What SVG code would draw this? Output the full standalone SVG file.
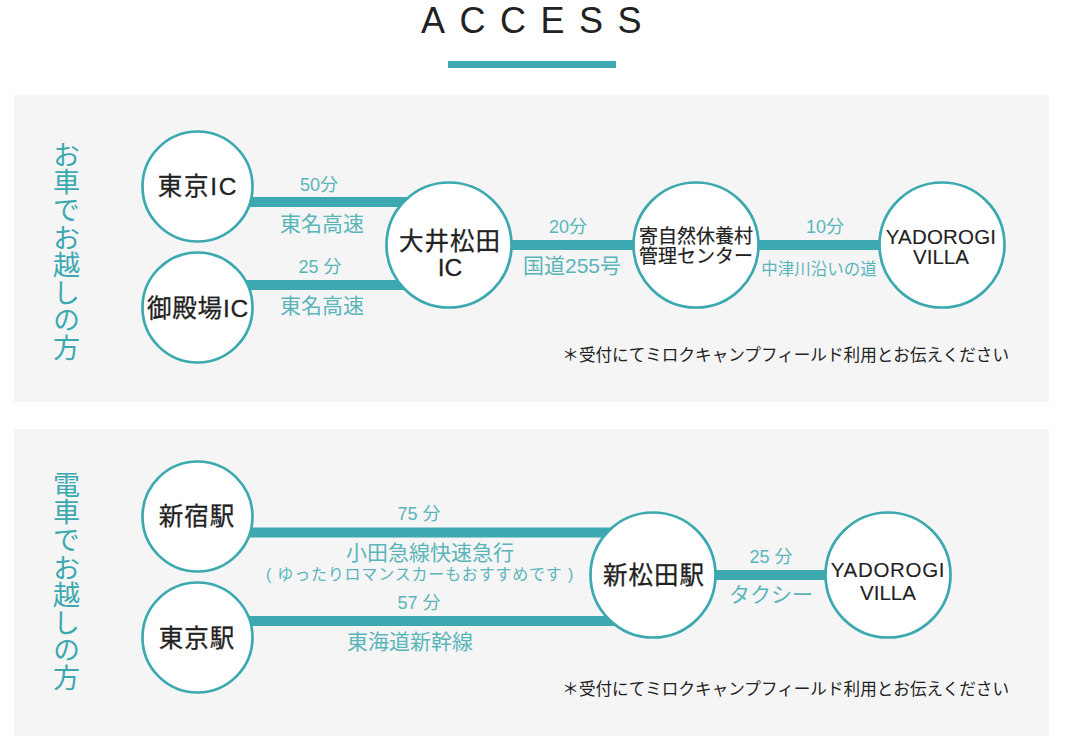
<svg xmlns="http://www.w3.org/2000/svg" width="1072" height="756" viewBox="0 0 1072 756">
<style>
text{font-family:"Liberation Sans","Noto Sans CJK JP",sans-serif;text-anchor:middle}
.panel{fill:#f5f5f5}
.c{fill:#fff;stroke:#3ba9af;stroke-width:2.700px}
.l{fill:#3ba9af}
.n{fill:#222;font-size:24.500px;stroke:#222;stroke-width:.3px}
.s{font-size:19px;stroke-width:.2px}
.y{font-size:20.500px;stroke-width:.1px}
.t{fill:#5ab5ba;font-size:21px}
.d{fill:#5ab5ba;font-size:18px}
.v{fill:#3ba9af;font-size:27px;writing-mode:vertical-rl;text-anchor:start;letter-spacing:.6px}
.note{fill:#222;font-size:16.600px;text-anchor:end}
</style>
<rect width="1072" height="756" fill="#fff"/>
<text x="421" y="33" font-size="36" letter-spacing="14.500" fill="#222" style="text-anchor:start" id="title">ACCESS</text>
<rect x="448" y="61" width="168" height="7" class="l"/>
<rect x="14" y="95" width="1035" height="307" class="panel"/>
<rect x="14" y="429" width="1035" height="307" class="panel"/>
<text class="v" x="64" y="141">お車でお越しの方</text>
<text class="v" x="64" y="471">電車でお越しの方</text>
<g id="connectors">
<rect x="240" y="197" width="170" height="10" class="l"/>
<rect x="240" y="280" width="170" height="10" class="l"/>
<rect x="500" y="240" width="150" height="10" class="l"/>
<rect x="750" y="240" width="150" height="10" class="l"/>
<rect x="240" y="527.500" width="380" height="10" class="l"/>
<rect x="240" y="616" width="380" height="10" class="l"/>
<rect x="700" y="570" width="140" height="10" class="l"/>
</g>
<g id="n1"><circle class="c" cx="197.500" cy="186.500" r="55"/><text class="n" x="198" y="195" letter-spacing="1.800">東京IC</text></g>
<g id="n2"><circle class="c" cx="197.500" cy="307.500" r="55"/><text class="n" x="198" y="317" letter-spacing=".8">御殿場IC</text></g>
<g id="n3"><circle class="c" cx="449" cy="245" r="62.500"/><text class="n" x="450" y="250" letter-spacing="1">大井松田</text><text class="n" x="450" y="276">IC</text></g>
<g id="n4"><circle class="c" cx="696" cy="245" r="62.500"/><text class="n s" x="696" y="243">寄自然休養村</text><text class="n s" x="696" y="263">管理センター</text></g>
<g id="n5"><circle class="c" cx="942" cy="245" r="62.500"/><text class="n y" x="941" y="244" letter-spacing=".2">YADOROGI</text><text class="n y" x="941" y="264">VILLA</text></g>
<g id="n6"><circle class="c" cx="197.500" cy="516.500" r="55"/><text class="n" x="197" y="525" letter-spacing="1">新宿駅</text></g>
<g id="n7"><circle class="c" cx="197.500" cy="637.500" r="55"/><text class="n" x="197" y="647" letter-spacing="1">東京駅</text></g>
<g id="n8"><circle class="c" cx="653" cy="575" r="62.500"/><text class="n" x="654" y="584" letter-spacing="1">新松田駅</text></g>
<g id="n9"><circle class="c" cx="888" cy="575" r="62.500"/><text class="n y" x="888" y="577" letter-spacing=".7">YADOROGI</text><text class="n y" x="888" y="600">VILLA</text></g>
<g id="labels">
<text class="d" x="319" y="191">50分</text>
<text class="t" x="322" y="231">東名高速</text>
<text class="d" x="320" y="273">25 分</text>
<text class="t" x="322" y="313">東名高速</text>
<text class="d" x="568" y="233">20分</text>
<text class="t" x="572" y="273">国道255号</text>
<text class="d" x="825" y="233">10分</text>
<text class="t" x="819" y="275" style="font-size:16.500px">中津川沿いの道</text>
<text class="note" x="1009" y="361">＊受付にてミロクキャンプフィールド利用とお伝えください</text>
<text class="d" x="419" y="520">75 分</text>
<text class="t" x="430" y="560">小田急線快速急行</text>
<text class="t" x="420" y="580" style="font-size:16px" letter-spacing=".8">( ゆったりロマンスカーもおすすめです )</text>
<text class="d" x="419" y="609">57 分</text>
<text class="t" x="410" y="649">東海道新幹線</text>
<text class="d" x="771" y="563">25 分</text>
<text class="t" x="771" y="602">タクシー</text>
<text class="note" x="1009" y="695">＊受付にてミロクキャンプフィールド利用とお伝えください</text>
</g>
</svg>
